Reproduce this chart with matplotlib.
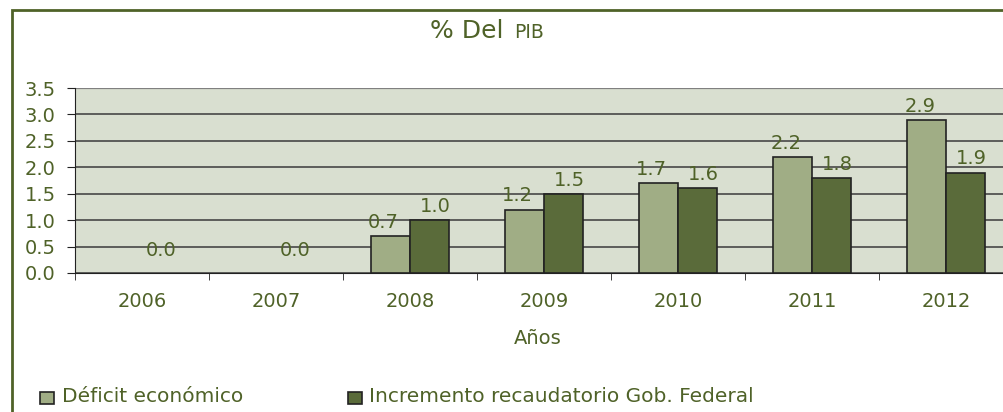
import numpy as np
import matplotlib.pyplot as plt
from matplotlib.patches import Rectangle

years = ['2006', '2007', '2008', '2009', '2010', '2011', '2012']
deficit = [0.0, 0.0, 0.7, 1.2, 1.7, 2.2, 2.9]
incremento = [0.0, 0.0, 1.0, 1.5, 1.6, 1.8, 1.9]
yticks = [0.0, 0.5, 1.0, 1.5, 2.0, 2.5, 3.0, 3.5]

txt = '#4f6228'
light = '#a0ad85'
dark = '#5a6b3a'
fs = 14
plt.rcParams['font.family'] = ['DejaVu Sans']

W, H = 1004, 412
fig = plt.figure(figsize=(W / 100, H / 100), dpi=100)
# outer frame, running off the right and bottom edges like the original
fig.patches.append(Rectangle((12 / W, -0.1), 1.2, 1 - 10 / H + 0.1,
                             transform=fig.transFigure, fill=False,
                             edgecolor=txt, linewidth=2))

ax = fig.add_axes([75 / W, 1 - 273 / H, 938 / W, 185 / H])
ax.set_facecolor('#d9dfd0')

x = np.arange(len(years))
w = 0.29
b1 = ax.bar(x - w / 2, deficit, w, color=light, edgecolor='#222222', linewidth=1.2, zorder=3)
b2 = ax.bar(x + w / 2, incremento, w, color=dark, edgecolor='#222222', linewidth=1.2, zorder=3)
for bars in (b1, b2):
    for p in bars:
        if p.get_height() == 0:
            p.set_visible(False)

for i in range(len(years)):
    if deficit[i] == 0 and incremento[i] == 0:
        # both zero -> labels coincide, only one shows
        ax.annotate('%.1f' % incremento[i], (x[i] + w / 2, 0), xytext=(0, 9), textcoords='offset points',
                    ha='center', va='bottom', color=txt, fontsize=fs)
        continue
    ax.annotate('%.1f' % deficit[i], (x[i] - w / 2, deficit[i]), xytext=(-5, 3),
                textcoords='offset points', ha='center', va='bottom', color=txt, fontsize=fs)
    ax.annotate('%.1f' % incremento[i], (x[i] + w / 2, incremento[i]), xytext=(4, 3),
                textcoords='offset points', ha='center', va='bottom', color=txt, fontsize=fs)

ax.set_xlim(-0.5, len(years) - 0.5)
ax.set_ylim(0, 3.5)
ax.set_yticks(yticks)
ax.set_yticklabels(['%.1f' % v for v in yticks], color=txt, fontsize=fs)
ax.yaxis.grid(True, color='#3a3a3a', linewidth=1.1, zorder=0)
ax.set_axisbelow(True)

ax.set_xticks(x)
ax.set_xticklabels(years, color=txt, fontsize=fs)
ax.set_xticks(np.arange(len(years) + 1) - 0.5, minor=True)
ax.tick_params(axis='x', which='major', length=0, pad=14)
ax.tick_params(axis='x', which='minor', length=5, color='#222222', direction='out')
ax.tick_params(axis='y', length=6, color='#222222', pad=8)

for s in ['top', 'right']:
    ax.spines[s].set_visible(False)
ax.spines['left'].set_color('#222222')
ax.spines['bottom'].set_color('#222222')
ax.axhline(3.5, color='#808080', linewidth=1.6, zorder=1)

fig.text(538 / W, 1 - 339 / H, 'Años', color=txt, fontsize=fs, ha='center', va='center')

fig.text(512 / W, 1 - 31 / H, '% Del ', color=txt, fontsize=18, ha='right', va='center')
fig.text(514 / W, 1 - 32.5 / H, 'PIB', color=txt, fontsize=13.5, ha='left', va='center')

fig.patches.append(Rectangle((40 / W, 1 - 404 / H), 14 / W, 12 / H, transform=fig.transFigure,
                             facecolor=light, edgecolor='#222222', linewidth=1.2))
fig.text(62 / W, 1 - 397 / H, 'Déficit económico', color=txt, fontsize=14.5, va='center')
fig.patches.append(Rectangle((348 / W, 1 - 404 / H), 14 / W, 12 / H, transform=fig.transFigure,
                             facecolor=dark, edgecolor='#222222', linewidth=1.2))
fig.text(369 / W, 1 - 397 / H, 'Incremento recaudatorio Gob. Federal', color=txt, fontsize=14.5,
         va='center')

fig.savefig('out.png', dpi=100)
